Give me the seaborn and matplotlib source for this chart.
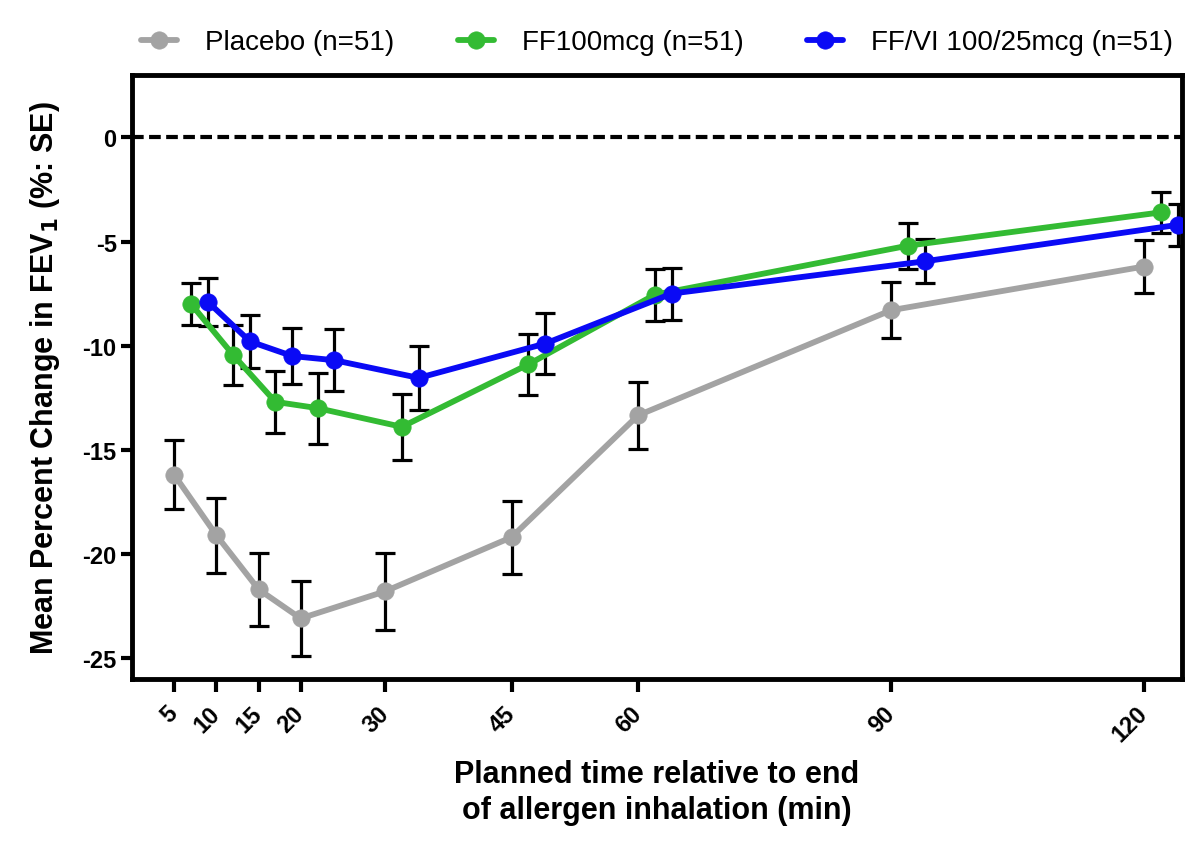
import matplotlib
matplotlib.use('Agg')
import matplotlib.pyplot as plt
import pandas as pd
import seaborn as sns

times = [5, 10, 15, 20, 30, 45, 60, 90, 120]
groups = ['Placebo (n=51)', 'FF100mcg (n=51)', 'FF/VI 100/25mcg (n=51)']

placebo_mean = [-16.2, -19.1, -21.7, -23.1, -21.8, -19.2, -13.35, -8.3, -6.2]
placebo_se = [1.65, 1.8, 1.75, 1.8, 1.85, 1.75, 1.6, 1.35, 1.25]
ff_mean = [-8.0, -10.45, -12.7, -13.0, -13.9, -10.9, -7.55, -5.2, -3.6]
ff_se = [1.0, 1.45, 1.5, 1.7, 1.6, 1.45, 1.25, 1.1, 1.0]
ffvi_mean = [-7.9, -9.8, -10.5, -10.7, -11.55, -9.9, -7.5, -5.95, -4.2]
ffvi_se = [1.15, 1.25, 1.35, 1.5, 1.55, 1.45, 1.25, 1.05, 1.0]

colors = ['#a3a3a3', '#33bb33', '#0a0af5']
dodge = [0, 2, 4]  # horizontal offset so the bars don't overlap

frames = []
for name, m, se, off in zip(groups, [placebo_mean, ff_mean, ffvi_mean],
                            [placebo_se, ff_se, ffvi_se], dodge):
    frames.append(pd.DataFrame({
        'time': [t + off for t in times],
        'mean': m,
        'se': se,
        'group': name,
    }))
df = pd.concat(frames, ignore_index=True)

sns.set_theme(style='ticks')
plt.rcParams['font.family'] = ['Liberation Sans', 'DejaVu Sans']
for key in ('text.color', 'axes.labelcolor', 'xtick.color', 'ytick.color', 'axes.edgecolor'):
    plt.rcParams[key] = 'black'

fig, ax = plt.subplots(figsize=(12, 8.53), dpi=100)
fig.subplots_adjust(left=0.11, right=0.985, top=0.911, bottom=0.203)

ax.axhline(0, color='black', lw=3, linestyle=(0, (2.8, 1.3)), dash_capstyle='butt', zorder=1)

sns.lineplot(data=df, x='time', y='mean', hue='group', hue_order=groups, palette=colors,
             marker='o', markersize=12.5, markeredgewidth=0.5, linewidth=4.2, sort=False,
             errorbar=None, ax=ax, zorder=3)
for ln in ax.lines[1:]:
    ln.set_markeredgecolor(ln.get_color())

# SE bars drawn beneath the lines
for name in groups:
    sub = df[df['group'] == name]
    ax.errorbar(sub['time'], sub['mean'], yerr=sub['se'], fmt='none', ecolor='black',
                elinewidth=2.3, capsize=7, capthick=2.3, zorder=2)

ax.set_xlim(0, 124.5)
ax.set_ylim(-26, 3)
ax.set_xticks(times)
ax.set_xticklabels([str(t) for t in times], rotation=45, ha='right', va='center',
                   rotation_mode='anchor')
ax.set_yticks([-25, -20, -15, -10, -5, 0])
ax.set_yticklabels(['-25', '-20', '-15', '-10', '-5', '0'])
ax.tick_params(axis='x', length=9, width=3, pad=13, labelsize=17)
ax.tick_params(axis='y', length=8, width=3, pad=3, labelsize=17)
for lab in ax.get_xticklabels() + ax.get_yticklabels():
    lab.set_fontweight('bold')
for s in ax.spines.values():
    s.set_linewidth(3.5)
    s.set_color('black')

ax.set_xlabel('Planned time relative to end\nof allergen inhalation (min)',
              fontsize=22, fontweight='bold', labelpad=10, linespacing=1.25)
ax.set_ylabel('Mean Percent Change in FEV$_\\mathbf{1}$ (%: SE)', fontsize=22,
              fontweight='bold', labelpad=15)

ax.legend(loc='lower center', bbox_to_anchor=(0.5, 1.0), ncol=3, frameon=False,
          fontsize=20, handlelength=1.3, handletextpad=1.0, columnspacing=2.3,
          borderaxespad=0.3)

fig.savefig('out.png', dpi=100)
